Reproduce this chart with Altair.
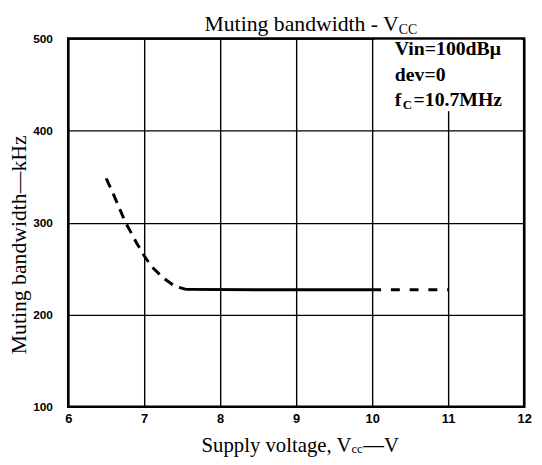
import altair as alt
import pandas as pd

# Curve readings (Supply voltage V, muting bandwidth kHz)
x_dash_left = [6.5, 6.6, 6.75, 6.9, 7.0, 7.1, 7.25, 7.4, 7.55]
y_dash_left = [348, 330, 301, 278, 264, 252, 240, 231, 227.5]
x_solid = [7.55, 8.5, 10.0]
y_solid = [227.5, 227, 227]
x_dash_right = [10.0, 11.0]
y_dash_right = [227, 227]

x_ticks = [6, 7, 8, 9, 10, 11, 12]
y_ticks = [100, 200, 300, 400, 500]

box_x = [10.03]
box_x2 = [11.97]
box_y = [421]
box_y2 = [498.8]

W, H = 462, 373
SERIF = "Liberation Serif"

xs = alt.Scale(domain=[6, 12], nice=False, zero=False)
ys = alt.Scale(domain=[100, 500], nice=False, zero=False)

xax = alt.Axis(values=x_ticks, title=None, grid=True, ticks=False, domain=False,
               labelFont="Liberation Sans", labelFontWeight="bold", labelFontSize=13,
               labelPadding=6, labelColor="black", gridColor="black", gridWidth=1.4,
               gridOpacity=1, format="d", labelFlush=False, labelOverlap=False)
yax = alt.Axis(values=y_ticks, title=None, grid=True, ticks=False, domain=False,
               labelFont="Liberation Sans", labelFontWeight="bold", labelFontSize=12,
               labelPadding=16, labelColor="black", gridColor="black", gridWidth=1.4,
               gridOpacity=1, format="d", labelFlush=False, labelOverlap=False)

def seg(xv, yv, dash=None):
    df = pd.DataFrame({"v": xv, "w": yv})
    kw = dict(color="black", strokeWidth=3)
    if dash:
        kw["strokeDash"] = dash
    return alt.Chart(df).mark_line(**kw).encode(
        x=alt.X("v:Q", scale=xs, axis=xax),
        y=alt.Y("w:Q", scale=ys, axis=yax),
    )

left = seg(x_dash_left, y_dash_left, [10, 7])
solid = seg(x_solid, y_solid)
right = seg(x_dash_right, y_dash_right, [9, 10])

box = alt.Chart(pd.DataFrame({"a": box_x, "a2": box_x2, "b": box_y, "b2": box_y2})).mark_rect(
    color="white").encode(
    x=alt.X("a:Q", scale=xs), x2="a2:Q",
    y=alt.Y("b:Q", scale=ys), y2="b2:Q")

def txt(s, x, y, size, align="left", weight="normal", angle=0, font=SERIF):
    props = dict(align=align, baseline="alphabetic", font=font, fontSize=size,
                 fontWeight=weight, color="black")
    if angle:
        props["angle"] = angle
        props["baseline"] = "middle"
    return alt.Chart(pd.DataFrame({"t": [s]})).mark_text(**props).encode(
        text="t:N", x=alt.value(x), y=alt.value(y))

texts = [
    # title
    txt("Muting bandwidth - V", 335, -8, 22, align="right"),
    txt("CC", 335, -5, 14),
    # annotation box
    txt("Vin=100dBμ", 331, 17, 20, weight="bold"),
    txt("dev=0", 331, 43, 20, weight="bold"),
    txt("f", 331, 68, 20, weight="bold"),
    txt("C", 339, 71, 13, weight="bold"),
    txt("=10.7MHz", 350, 68, 20, weight="bold"),
    # x title
    txt("Supply voltage, V", 287, 419, 21, align="right"),
    txt("cc", 287, 420, 13),
    txt("—V", 299, 419, 21),
    # y title
    txt("Muting bandwidth—kHz", -50, 209, 22, align="center", angle=270),
]

chart = alt.layer(box, left, solid, right, *texts).properties(
    width=W, height=H,
    autosize=alt.AutoSizeParams(type="none"),
    padding={"left": 61, "top": 28, "right": 10, "bottom": 52},
    background="white",
).configure_view(stroke="black", strokeWidth=2.5)

chart.save("out.html", embed_options={"renderer": "svg", "actions": False})
